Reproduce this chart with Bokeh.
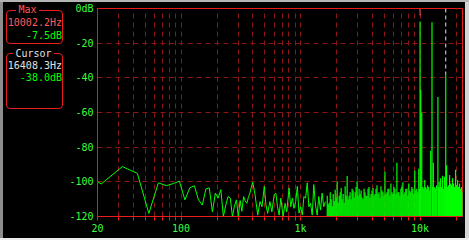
from bokeh.plotting import figure
from bokeh.models import Range1d, FixedTicker, Spacer, Div
from bokeh.layouts import row, column
from bokeh.embed import file_html
from bokeh.resources import INLINE

# ---------------- data ----------------
# low-frequency part of the spectrum (drawn as a line)
freq_hz = [
    20, 21.5, 32.3, 43.1, 53.8, 64.6, 75.4, 86.1, 96.9, 107.7, 118.4, 129.2, 140.0,
    150.7, 161.5, 172.3, 183.0, 193.8, 204.6, 215.3, 226.1, 236.9, 247.6, 258.4,
    269.2, 279.9, 290.7, 301.5, 312.2, 323.0, 333.8, 344.5, 355.3, 366.0, 376.8,
    387.6, 398.3, 416.3, 438.3, 458.0, 475.9, 497.3, 513.6, 530.6, 554.3, 575.9,
    601.8, 621.6, 642.1, 662.1, 683.9, 714.6, 742.4, 766.9, 801.4, 827.8, 855.1,
    881.6, 910.7, 940.8, 970, 1002, 1035, 1067, 1102, 1138, 1174, 1213, 1253, 1291,
    1334, 1378, 1421, 1468, 1516, 1563, 1615,
]
level_db = [
    -100, -101.2, -91.2, -95.1, -118.2, -100.6, -102.2, -101, -99.6, -110.4, -103.5,
    -102.2, -110.4, -113.4, -104.1, -103.5, -117.3, -106.5, -109.4, -104.5, -120,
    -113.4, -108.5, -109.4, -120, -114, -110.4, -120, -110.8, -117, -108.5, -111,
    -112.4, -109, -106.5, -103, -100.2, -107.5, -119.2, -111.4, -114.4, -102.6,
    -113.4, -118.2, -111.4, -117.3, -107.5, -106.5, -114.4, -119.2, -109.4, -120,
    -112.4, -117.3, -103.5, -114.4, -109.4, -115.3, -111.4, -102.6, -118, -114.4,
    -119.2, -108.5, -109.4, -100.6, -114.4, -112.4, -119.2, -101.6, -113.4, -119.2,
    -108.5, -116.3, -106.5, -114.4, -111.4,
]

# dense high-frequency part (peak level of each displayed column)
dense_freq_hz = [
    1673, 1705, 1738, 1772, 1806, 1841, 1877, 1913, 1950, 1988,
    2026, 2066, 2106, 2146, 2188, 2230, 2273, 2317, 2362, 2408,
    2455, 2502, 2551, 2600, 2650, 2702, 2754, 2807, 2862, 2917,
    2974, 3031, 3090, 3150, 3211, 3273, 3336, 3401, 3467, 3534,
    3602, 3672, 3743, 3816, 3890, 3965, 4042, 4120, 4200, 4281,
    4364, 4448, 4534, 4622, 4711, 4803, 4896, 4990, 5087, 5185,
    5286, 5388, 5492, 5598, 5707, 5817, 5930, 6044, 6161, 6281,
    6402, 6526, 6652, 6781, 6912, 7046, 7182, 7321, 7463, 7607,
    7754, 7904, 8057, 8213, 8372, 8534, 8699, 8867, 9039, 9214,
    9392, 9573, 9759, 9947,
    10002.2, 10137, 10333, 10533, 10737, 10945, 11157, 11373, 11593, 11817,
    12046, 12279, 12590, 12759, 12920, 13258, 13514, 13776, 14110, 14314,
    14450, 14592, 14874, 15162, 15455, 15754, 16059, 16370, 16408.3, 16687,
    17010, 17339, 17675, 18017, 18366, 18721, 19083, 19453, 19829, 20213,
    20604, 21003, 21409, 21824, 22246, 22660,
]
dense_top_db = [
    -108, -113, -112, -106, -110, -114, -107, -111, -104.5, -109,
    -99.6, -112, -108, -106, -103.5, -110, -107, -112, -102.6, -108,
    -96.6, -110, -108, -106, -110, -104, -105, -109, -106, -103,
    -99.6, -108, -104, -107, -105, -109, -110, -104, -106, -108,
    -108, -104, -103, -109, -107, -105, -103.5, -108, -107, -104,
    -102, -107, -106, -109, -102.6, -105, -106, -108, -94, -107,
    -106, -104, -104, -108, -101, -106, -107, -103, -104, -107,
    -89, -106, -106, -108, -104, -103, -100.2, -107, -106, -104,
    -104, -108, -101, -105, -106, -103, -104, -107, -93.5, -105,
    -104, -106, -92.5, -104,
    -7.5, -47, -60, -103, -104, -99, -103, -104, -102, -103,
    -105, -82, -8, -103, -89, -103, -104, -102, -51, -103,
    -100, -104, -98, -103, -96.5, -104, -97, -103, -38, -90.5,
    -103, -102, -96, -101, -102, -98, -101, -103, -93, -102,
    -99, -103, -101, -104, -103, -106,
]
floor_db = -120

max_freq_hz = 10002.2
max_level_db = -7.5
cursor_freq_hz = 16408.3
cursor_level_db = -38.0

x_range_hz = (20, 22660)
x_ticks_hz = [20, 30, 40, 50, 60, 70, 80, 90, 100, 200, 300, 400, 500, 600, 700,
              800, 900, 1000, 2000, 3000, 4000, 5000, 6000, 7000, 8000, 9000,
              10000, 20000]
x_tick_text = {20: "20", 100: "100", 1000: "1k", 10000: "10k"}
y_ticks_db = [-120, -100, -80, -60, -40, -20, 0]
y_tick_text = {0: "0dB", -20: "-20", -40: "-40", -60: "-60", -80: "-80",
               -100: "-100", -120: "-120"}

# ---------------- styles ----------------
RED = "#e81c1c"
GRID = "#8a1616"
GREEN = "#00ff00"
LABEL_GREEN = "#3cff3c"
SALMON = "#ff5a5a"
LIGHT = "#e0e0e0"
FONT = "DejaVu Sans Mono"
FS = "10px"

# ---------------- main spectrum plot ----------------
p = figure(width=399, height=236, x_axis_type="log",
           x_range=Range1d(*x_range_hz), y_range=Range1d(-120, 0),
           output_backend="svg", toolbar_location=None,
           min_border_left=29, min_border_right=3, min_border_top=6,
           min_border_bottom=22,
           background_fill_color="black", border_fill_color="black",
           outline_line_color=RED, outline_line_width=1)

p.xgrid.ticker = FixedTicker(ticks=[t for t in x_ticks_hz if t != 20])
p.ygrid.ticker = FixedTicker(ticks=[t for t in y_ticks_db if t not in (0, -120)])
p.grid.grid_line_color = GRID
p.grid.grid_line_dash = "5 4"
p.grid.grid_line_width = 1

p.xaxis.ticker = FixedTicker(ticks=x_ticks_hz)
p.xaxis.major_label_overrides = {t: x_tick_text.get(t, "") for t in x_ticks_hz}
p.xaxis.major_tick_out = 4
p.xaxis.major_tick_in = 0
p.xaxis.major_tick_line_color = RED
p.xaxis.minor_tick_line_color = None
p.xaxis.major_label_standoff = 2

p.yaxis.ticker = FixedTicker(ticks=y_ticks_db)
p.yaxis.major_label_overrides = {t: y_tick_text[t] for t in y_ticks_db}
p.yaxis.major_tick_out = 0
p.yaxis.major_tick_in = 0
p.yaxis.major_tick_line_color = None
p.yaxis.minor_tick_line_color = None
p.yaxis.major_label_standoff = 4

p.axis.axis_line_color = RED
p.axis.major_label_text_color = LABEL_GREEN
p.axis.major_label_text_font = FONT
p.axis.major_label_text_font_size = FS

p.line(freq_hz, level_db, line_color=GREEN, line_width=1)
p.segment(x0=dense_freq_hz, y0=[floor_db] * len(dense_freq_hz),
          x1=dense_freq_hz, y1=dense_top_db, line_color=GREEN, line_width=1.2)

p.segment(x0=[max_freq_hz], y0=[0], x1=[max_freq_hz], y1=[max_level_db],
          line_color=SALMON, line_width=1, line_dash="7 7")
p.segment(x0=[cursor_freq_hz], y0=[0], x1=[cursor_freq_hz], y1=[cursor_level_db],
          line_color=LIGHT, line_width=1, line_dash="4 3")

# ---------------- left readout panel (HTML) ----------------
max_text = f"{max_freq_hz:.1f}Hz"
max_db_text = f"{max_level_db:.1f}dB"
cur_text = f"{cursor_freq_hz:.1f}Hz"
cur_db_text = f"{cursor_level_db:.1f}dB"

BASE = (f"position:absolute;font-family:'{FONT}';font-size:{FS};"
        "line-height:12px;white-space:nowrap;")
BOX = (f"position:absolute;box-sizing:border-box;border:1px solid {RED};"
       "border-radius:4px;")

panel_html = f"""
<div style="position:relative;width:63px;height:236px;background:black;overflow:hidden;">
  <div style="{BOX}left:3px;top:8px;width:57px;height:34px;"></div>
  <div style="{BOX}left:3px;top:51px;width:57px;height:56px;"></div>
  <div style="{BASE}left:0;top:2px;width:49px;text-align:center;">
    <span style="background:black;color:{SALMON};padding:0 2px;">Max</span></div>
  <div style="{BASE}right:4px;top:15px;color:{SALMON};">{max_text}</div>
  <div style="{BASE}right:4px;top:28px;color:{GREEN};">{max_db_text}</div>
  <div style="{BASE}left:0;top:46px;width:61px;text-align:center;">
    <span style="background:black;color:{LIGHT};padding:0 2px;">Cursor</span></div>
  <div style="{BASE}right:4px;top:58px;color:{LIGHT};">{cur_text}</div>
  <div style="{BASE}right:4px;top:70px;color:{GREEN};">{cur_db_text}</div>
</div>
"""
panel = Div(text=panel_html, width=63, height=236,
            styles={"background-color": "black", "margin": "0", "padding": "0"})

# ---------------- window frame ----------------
top_strip = Spacer(width=469, height=2, styles={"background-color": "#b4b4b4"})
bottom_strip = Spacer(width=469, height=2, styles={"background-color": "#ececec"})
left_strip = Spacer(width=3, height=236, styles={"background-color": "#8e8e8e"})
right_strip = Spacer(width=4, height=236, styles={"background-color": "#d4d4d4"})

middle = row(left_strip, panel, p, right_strip, styles={"background-color": "black"})
layout = column(top_strip, middle, bottom_strip)

open("out.html", "w").write(file_html(layout, INLINE))
